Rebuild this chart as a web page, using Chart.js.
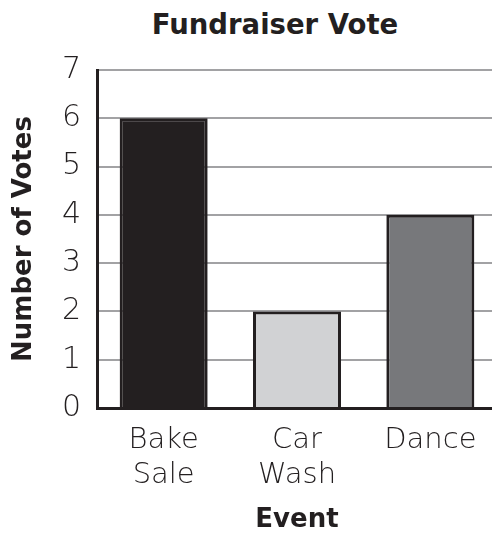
<!DOCTYPE html>
<html>
<head>
<meta charset="utf-8">
<script src="https://cdn.jsdelivr.net/npm/chart.js@4.4.1/dist/chart.umd.min.js"></script>
<style>
  html, body { margin: 0; padding: 0; background: #fff; overflow: hidden; }
  #wrap { position: relative; width: 492px; height: 540px; overflow: hidden; }
  #title {
    position: absolute; left: 0; top: 9px; width: 550px; text-align: center;
    font: bold 27.5px "DejaVu Sans", sans-serif; color: #231f20; line-height: 30px;
  }
  #chart-box { position: absolute; left: 0; top: 0; width: 498px; height: 540px; }
</style>
</head>
<body>
<div id="wrap">
  <div id="title">Fundraiser Vote</div>
  <div id="chart-box"><canvas id="chart"></canvas></div>
</div>
<script>
// Fundraiser vote counts per event
const events = [['Bake', 'Sale'], ['Car', 'Wash'], 'Dance'];
const votes = [6, 2, 4];
const barColors = ['#231f20', '#d1d2d4', '#77787b'];
const yTicks = [0, 1, 2, 3, 4, 5, 6, 7];

const INK = '#231f20';
const FONT = '"DejaVu Sans", sans-serif';

const ctx = document.getElementById('chart').getContext('2d');

new Chart(ctx, {
  type: 'bar',
  data: {
    labels: events,
    datasets: [{
      label: 'Votes',
      data: votes,
      backgroundColor: barColors,
      borderColor: INK,
      borderWidth: 3,
      borderSkipped: 'start',
      barPercentage: 0.66,
      categoryPercentage: 1
    }]
  },
  options: {
    responsive: true,
    maintainAspectRatio: false,
    animation: false,
    layout: { padding: { top: 70, right: 1, left: 0, bottom: 0 } },
    plugins: {
      legend: { display: false },
      title: { display: false },
      tooltip: { enabled: false }
    },
    scales: {
      x: {
        grid: { display: false, drawTicks: false },
        border: { color: INK, width: 3, z: 1 },
        ticks: {
          color: INK,
          padding: 15,
          font: { family: FONT, size: 29, weight: 200, lineHeight: 1.2 },
          maxRotation: 0
        },
        title: {
          display: true,
          text: 'Event',
          color: INK,
          font: { family: FONT, size: 26, weight: 'bold', lineHeight: 1.2 },
          padding: { top: 0, bottom: 4 }
        },
        afterFit: function(scale) { scale.height = 132; }
      },
      y: {
        min: 0,
        max: 7,
        afterBuildTicks: function(scale) {
          scale.ticks = yTicks.map(v => ({ value: v }));
        },
        grid: { color: '#a2a2a4', lineWidth: 2, drawTicks: false },
        border: { color: INK, width: 3 },
        ticks: {
          color: INK,
          padding: 16,
          font: { family: FONT, size: 30, weight: 200 }
        },
        title: {
          display: true,
          text: 'Number of Votes',
          color: INK,
          font: { family: FONT, size: 26, weight: 'bold', lineHeight: 1.2 },
          padding: { top: 9, bottom: 0 }
        },
        afterFit: function(scale) { scale.width = 97; }
      }
    }
  }
});
</script>
</body>
</html>
